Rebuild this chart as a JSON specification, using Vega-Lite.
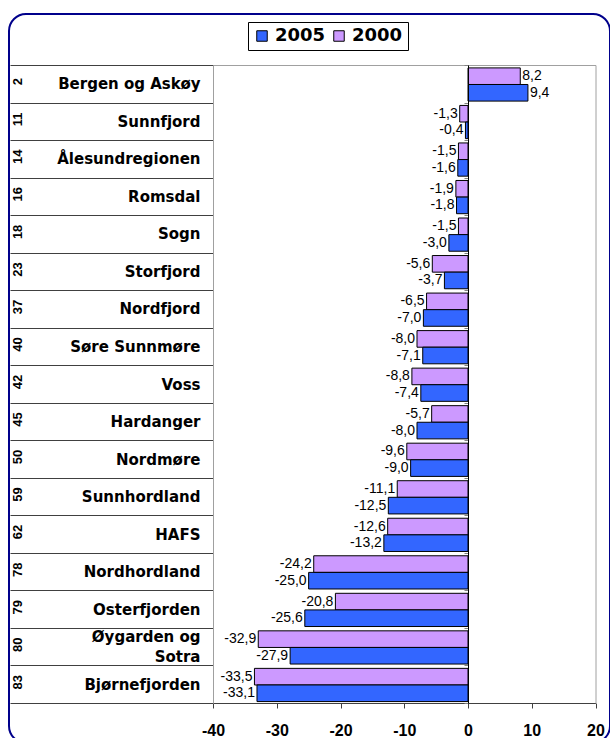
{
  "$schema": "https://vega.github.io/schema/vega-lite/v6.json",
  "width": 601,
  "height": 729,
  "autosize": {"type": "none"},
  "padding": {"left": 9, "top": 14, "right": 0, "bottom": 0},
  "background": "white",
  "config": {
    "view": {"stroke": "#00008B", "strokeWidth": 2, "cornerRadius": 17, "fill": "white"},
    "locale": {"number": {"decimal": ",", "thousands": " ", "grouping": [3], "currency": ["", ""], "minus": "-"}},
    "axis": {"labelColor": "black", "title": null, "grid": false}
  },
  "data": {
    "values": [
      {"nr": 2, "region": "Bergen og Askøy", "year": "2000", "value": 8.2},
      {"nr": 2, "region": "Bergen og Askøy", "year": "2005", "value": 9.4},
      {"nr": 11, "region": "Sunnfjord", "year": "2000", "value": -1.3},
      {"nr": 11, "region": "Sunnfjord", "year": "2005", "value": -0.4},
      {"nr": 14, "region": "Ålesundregionen", "year": "2000", "value": -1.5},
      {"nr": 14, "region": "Ålesundregionen", "year": "2005", "value": -1.6},
      {"nr": 16, "region": "Romsdal", "year": "2000", "value": -1.9},
      {"nr": 16, "region": "Romsdal", "year": "2005", "value": -1.8},
      {"nr": 18, "region": "Sogn", "year": "2000", "value": -1.5},
      {"nr": 18, "region": "Sogn", "year": "2005", "value": -3.0},
      {"nr": 23, "region": "Storfjord", "year": "2000", "value": -5.6},
      {"nr": 23, "region": "Storfjord", "year": "2005", "value": -3.7},
      {"nr": 37, "region": "Nordfjord", "year": "2000", "value": -6.5},
      {"nr": 37, "region": "Nordfjord", "year": "2005", "value": -7.0},
      {"nr": 40, "region": "Søre Sunnmøre", "year": "2000", "value": -8.0},
      {"nr": 40, "region": "Søre Sunnmøre", "year": "2005", "value": -7.1},
      {"nr": 42, "region": "Voss", "year": "2000", "value": -8.8},
      {"nr": 42, "region": "Voss", "year": "2005", "value": -7.4},
      {"nr": 45, "region": "Hardanger", "year": "2000", "value": -5.7},
      {"nr": 45, "region": "Hardanger", "year": "2005", "value": -8.0},
      {"nr": 50, "region": "Nordmøre", "year": "2000", "value": -9.6},
      {"nr": 50, "region": "Nordmøre", "year": "2005", "value": -9.0},
      {"nr": 59, "region": "Sunnhordland", "year": "2000", "value": -11.1},
      {"nr": 59, "region": "Sunnhordland", "year": "2005", "value": -12.5},
      {"nr": 62, "region": "HAFS", "year": "2000", "value": -12.6},
      {"nr": 62, "region": "HAFS", "year": "2005", "value": -13.2},
      {"nr": 78, "region": "Nordhordland", "year": "2000", "value": -24.2},
      {"nr": 78, "region": "Nordhordland", "year": "2005", "value": -25.0},
      {"nr": 79, "region": "Osterfjorden", "year": "2000", "value": -20.8},
      {"nr": 79, "region": "Osterfjorden", "year": "2005", "value": -25.6},
      {"nr": 80, "region": "Øygarden og Sotra", "year": "2000", "value": -32.9},
      {"nr": 80, "region": "Øygarden og Sotra", "year": "2005", "value": -27.9},
      {"nr": 83, "region": "Bjørnefjorden", "year": "2000", "value": -33.5},
      {"nr": 83, "region": "Bjørnefjorden", "year": "2005", "value": -33.1}
    ]
  },
  "transform": [{"calculate": "datum.nr + '|' + datum.region", "as": "key"}],
  "resolve": {"axis": {"x": "independent", "y": "independent"}},
  "layer": [
    {
      "mark": {"type": "bar", "stroke": "black", "strokeWidth": 1},
      "encoding": {
        "y": {
          "field": "key", "type": "nominal",
          "sort": {"field": "nr", "op": "min", "order": "ascending"},
          "scale": {"range": [51, 689], "paddingInner": 0, "paddingOuter": 0},
          "axis": {
            "orient": "left", "offset": -204, "title": null,
            "labelExpr": "split(datum.value,'|')[1] == 'Øygarden og Sotra' ? '' : split(datum.value,'|')[1]",
            "labelFont": "DejaVu Sans", "labelFontWeight": "bold", "labelFontSize": 15,
            "labelColor": "black", "labelAlign": "right", "labelBaseline": "middle",
            "tickBand": "extent", "tickSize": 203, "tickColor": "#404040", "tickWidth": 1,
            "labelPadding": -190, "domainColor": "#a0a0a0", "labelLimit": 0
          }
        },
        "x": {
          "field": "value", "type": "quantitative",
          "scale": {"domain": [-40, 20], "range": [204, 586.5], "nice": false, "zero": false},
          "axis": {
            "orient": "bottom", "offset": -40, "values": [-40, -30, -20, -10, 0, 10, 20],
            "labelFont": "Liberation Sans", "labelFontWeight": "bold", "labelFontSize": 16,
            "labelColor": "black", "labelFlush": false, "labelPadding": 14,
            "tickSize": 5, "tickColor": "#404040", "domainColor": "#404040", "grid": false, "title": null
          }
        },
        "yOffset": {"field": "year", "type": "nominal", "sort": ["2000", "2005"], "scale": {"paddingInner": 0, "paddingOuter": 0.13, "align": 0.67}},
        "color": {
          "field": "year", "type": "nominal",
          "scale": {"domain": ["2005", "2000"], "range": ["#3366FF", "#CC99FF"]},
          "legend": {
            "orient": "none", "legendX": 239, "legendY": 8, "direction": "horizontal", "title": null,
            "strokeColor": "black", "fillColor": "white", "padding": 5,
            "symbolType": "square", "symbolSize": 110, "symbolStrokeColor": "black", "symbolStrokeWidth": 1, "symbolOpacity": 1,
            "labelFont": "DejaVu Sans", "labelFontWeight": "bold", "labelFontSize": 18, "labelColor": "black",
            "labelOffset": 4, "columnPadding": 4
          }
        }
      }
    },
    {
      "transform": [{"filter": "datum.value >= 0"}],
      "mark": {"type": "text", "align": "left", "dx": 2, "font": "Liberation Sans", "fontSize": 14, "color": "black"},
      "encoding": {
        "y": {
          "field": "key", "type": "nominal",
          "sort": {"field": "nr", "op": "min", "order": "ascending"},
          "scale": {"range": [51, 689], "paddingInner": 0, "paddingOuter": 0},
          "axis": {
            "orient": "left", "offset": -204, "title": null, "ticks": false, "tickSize": 0, "domain": false,
            "labelExpr": "split(datum.value,'|')[0]", "labelAngle": -90, "labelAlign": "center", "labelBaseline": "middle",
            "labelOffset": -2,
            "labelPadding": 196, "labelFont": "Liberation Sans", "labelFontWeight": "bold", "labelFontSize": 13, "labelColor": "black"
          }
        },
        "x": {
          "field": "value", "type": "quantitative",
          "scale": {"domain": [-40, 20], "range": [204, 586.5], "nice": false, "zero": false},
          "axis": {"orient": "top", "offset": -51, "labels": false, "ticks": false, "domainColor": "#a0a0a0", "grid": false, "title": null}
        },
        "yOffset": {"field": "year", "type": "nominal", "sort": ["2000", "2005"], "scale": {"paddingInner": 0, "paddingOuter": 0.13, "align": 0.67}},
        "text": {"field": "value", "type": "quantitative", "format": ".1f"}
      }
    },
    {
      "transform": [{"filter": "datum.value < 0"}],
      "mark": {"type": "text", "align": "right", "dx": -2, "font": "Liberation Sans", "fontSize": 14, "color": "black"},
      "encoding": {
        "y": {
          "field": "key", "type": "nominal",
          "sort": {"field": "nr", "op": "min", "order": "ascending"},
          "scale": {"range": [51, 689], "paddingInner": 0, "paddingOuter": 0},
          "axis": {
            "orient": "left", "offset": -459, "title": null, "labels": false,
            "tickBand": "extent", "tickSize": 4, "tickColor": "#808080", "domainColor": "black", "zindex": 1
          }
        },
        "x": {
          "field": "value", "type": "quantitative",
          "scale": {"domain": [-40, 20], "range": [204, 586.5], "nice": false, "zero": false},
          "axis": null
        },
        "yOffset": {"field": "year", "type": "nominal", "sort": ["2000", "2005"], "scale": {"paddingInner": 0, "paddingOuter": 0.13, "align": 0.67}},
        "text": {"field": "value", "type": "quantitative", "format": ".1f"}
      }
    },
    {
      "mark": {"type": "point", "opacity": 0, "size": 0},
      "encoding": {
        "y": {
          "field": "key", "type": "nominal",
          "sort": {"field": "nr", "op": "min", "order": "ascending"},
          "scale": {"range": [51, 689], "paddingInner": 0, "paddingOuter": 0},
          "axis": {"orient": "right", "offset": -14.5, "title": null, "labels": false, "ticks": false, "domainColor": "#a0a0a0"}
        },
        "x": {
          "field": "value", "type": "quantitative",
          "scale": {"domain": [-40, 20], "range": [204, 586.5], "nice": false, "zero": false},
          "axis": null
        }
      }
    },
    {
      "mark": {"type": "point", "opacity": 0, "size": 0},
      "encoding": {
        "y": {
          "field": "key", "type": "nominal",
          "sort": {"field": "nr", "op": "min", "order": "ascending"},
          "scale": {"range": [51, 689], "paddingInner": 0, "paddingOuter": 0},
          "axis": {
            "orient": "left", "offset": -204, "title": null, "ticks": false, "tickSize": 0, "domain": false,
            "labelExpr": "split(datum.value,'|')[1] == 'Øygarden og Sotra' ? ['Øygarden og', 'Sotra'] : ''",
            "labelFont": "DejaVu Sans", "labelFontWeight": "bold", "labelFontSize": 15,
            "labelColor": "black", "labelAlign": "right", "labelBaseline": "middle", "labelLineHeight": 20,
            "labelOffset": -10, "labelPadding": 13, "labelLimit": 0
          }
        },
        "x": {
          "field": "value", "type": "quantitative",
          "scale": {"domain": [-40, 20], "range": [204, 586.5], "nice": false, "zero": false},
          "axis": null
        }
      }
    }
  ]
}
